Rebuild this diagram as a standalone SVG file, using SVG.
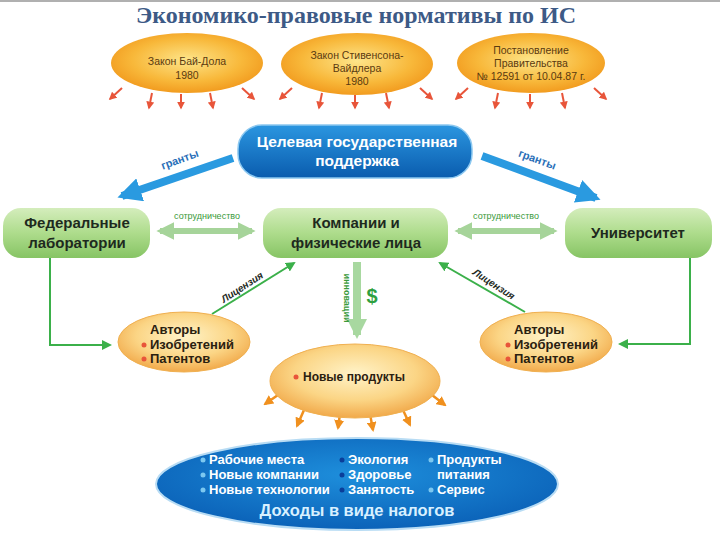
<svg xmlns="http://www.w3.org/2000/svg" width="720" height="540" viewBox="0 0 720 540">
<defs>
<radialGradient id="gOr" cx="50%" cy="45%" r="60%">
<stop offset="0" stop-color="#fde58a"/><stop offset="0.6" stop-color="#f8b83a"/><stop offset="1" stop-color="#f09418"/>
</radialGradient>
<radialGradient id="gOrL" cx="50%" cy="40%" r="60%">
<stop offset="0" stop-color="#fff3c8"/><stop offset="0.6" stop-color="#fbd585"/><stop offset="1" stop-color="#f1a94a"/>
</radialGradient>
<linearGradient id="gBlue" x1="0" y1="0" x2="0" y2="1">
<stop offset="0" stop-color="#2b96e0"/><stop offset="1" stop-color="#0a5cae"/>
</linearGradient>
<radialGradient id="gBlueE" cx="50%" cy="40%" r="60%">
<stop offset="0" stop-color="#1e8fdc"/><stop offset="1" stop-color="#0b62b8"/>
</radialGradient>
<linearGradient id="gGreen" x1="0" y1="0" x2="0" y2="1">
<stop offset="0" stop-color="#d4edbc"/><stop offset="0.5" stop-color="#aedc8c"/><stop offset="1" stop-color="#86c464"/>
</linearGradient>
<marker id="mRed" viewBox="0 0 10 10" refX="8" refY="5" markerWidth="4" markerHeight="4" orient="auto"><path d="M0,0L10,5L0,10z" fill="#e8553a"/></marker>
<marker id="mOr" viewBox="0 0 10 10" refX="8" refY="5" markerWidth="4" markerHeight="4" orient="auto"><path d="M0,0L10,5L0,10z" fill="#f0901e"/></marker>
<marker id="mBlue" viewBox="0 0 10 10" refX="8" refY="5" markerWidth="3" markerHeight="3" orient="auto"><path d="M0,0L10,5L0,10z" fill="#2a9ae0"/></marker>
<marker id="mGreen" viewBox="0 0 10 10" refX="8" refY="5" markerWidth="5" markerHeight="5" orient="auto"><path d="M0,0L10,5L0,10z" fill="#3bb04a"/></marker>
<marker id="mLG" viewBox="0 0 10 10" refX="8" refY="5" markerWidth="3" markerHeight="3" orient="auto-start-reverse"><path d="M0,0L10,5L0,10z" fill="#a6d49a"/></marker>
<marker id="mLG2" viewBox="0 0 10 10" refX="8" refY="5" markerWidth="2.5" markerHeight="2.5" orient="auto"><path d="M0,0L10,5L0,10z" fill="#a8d8a0"/></marker>
</defs>
<style>
.t{font-family:"Liberation Sans",Arial,sans-serif}
.law{font-size:10.5px;fill:#5a3a10}
.bw{font-size:15.5px;font-weight:bold;fill:#ffffff}
.bd{font-size:15px;font-weight:bold;fill:#1e2a1e}
.au{font-size:13px;font-weight:bold;fill:#2a2010}
.lab{font-size:9px;fill:#3a9a3a}
.bl{font-size:13px;font-weight:bold;fill:#ffffff}
.rarr{stroke:#e8553a;stroke-width:2;fill:none;marker-end:url(#mRed)}
.oarr{stroke:#f0901e;stroke-width:2.5;fill:none;marker-end:url(#mOr)}
.gl{stroke:#3bb04a;stroke-width:2;fill:none;marker-end:url(#mGreen)}
</style>
<rect width="720" height="540" fill="#ffffff"/>
<rect x="0" y="0" width="720" height="2" fill="#b0b0b0"/>
<text x="356" y="23" text-anchor="middle" font-family="Liberation Serif,serif" font-size="24" font-weight="bold" fill="#3d5a86">Экономико-правовые нормативы по ИС</text>

<g id="connectors">
<path class="rarr" d="M122,88L110,99"/><path class="rarr" d="M152,93L149,108"/><path class="rarr" d="M181,94L181,108"/><path class="rarr" d="M210,93L213,108"/><path class="rarr" d="M242,88L254,99"/>
<path class="rarr" d="M292,88L280,99"/><path class="rarr" d="M322,93L319,108"/><path class="rarr" d="M355,95L355,108"/><path class="rarr" d="M386,93L389,108"/><path class="rarr" d="M420,88L432,99"/>
<path class="rarr" d="M468,88L456,99"/><path class="rarr" d="M498,93L495,108"/><path class="rarr" d="M530,94L530,108"/><path class="rarr" d="M562,93L565,108"/><path class="rarr" d="M594,88L606,99"/>
<path d="M233,158L122,196" stroke="#2a9ae0" stroke-width="8" fill="none" marker-end="url(#mBlue)"/>
<path d="M482,156L596,198" stroke="#2a9ae0" stroke-width="8" fill="none" marker-end="url(#mBlue)"/>
<text class="t" x="181" y="163" font-size="11" font-weight="bold" fill="#2a6fb8" text-anchor="middle" transform="rotate(-20 181 163)">гранты</text>
<text class="t" x="536" y="163" font-size="11" font-weight="bold" fill="#2a6fb8" text-anchor="middle" transform="rotate(20 536 163)">гранты</text>
<path d="M160,231L252,231" stroke="#a6d49a" stroke-width="6" fill="none" marker-start="url(#mLG)" marker-end="url(#mLG)"/>
<path d="M458,231L554,231" stroke="#a6d49a" stroke-width="6" fill="none" marker-start="url(#mLG)" marker-end="url(#mLG)"/>
<text class="t lab" x="207" y="219" text-anchor="middle">сотрудничество</text>
<text class="t lab" x="506" y="219" text-anchor="middle">сотрудничество</text>
<path class="gl" d="M50,258L50,345L110,345"/>
<path class="gl" d="M690,258L690,344L620,344"/>
<path class="gl" d="M212,314L294,263"/>
<path class="gl" d="M525,312L440,263"/>
<text class="t" x="244" y="290" font-size="10" font-weight="bold" font-style="italic" fill="#1e2a1e" text-anchor="middle" transform="rotate(-33 244 290)">Лицензия</text>
<text class="t" x="492" y="287" font-size="10" font-weight="bold" font-style="italic" fill="#1e2a1e" text-anchor="middle" transform="rotate(33 492 287)">Лицензия</text>
<path d="M357,262L357,335" stroke="#a8d8a0" stroke-width="8" fill="none" marker-end="url(#mLG2)"/>
<text class="t" x="344" y="298" font-size="9" font-weight="bold" fill="#3a9a3a" text-anchor="middle" transform="rotate(90 344 298)">инновации</text>
<text class="t" x="372" y="303" font-size="20" font-weight="bold" fill="#2ea040" text-anchor="middle">$</text>
<path class="oarr" d="M278,395L265,404"/><path class="oarr" d="M304,410L297,426"/><path class="oarr" d="M340,414L338,428"/><path class="oarr" d="M370,414L373,430"/><path class="oarr" d="M403,410L410,425"/><path class="oarr" d="M432,395L445,405"/>
</g>

<g id="law1"><ellipse cx="187" cy="63" rx="76" ry="30" fill="url(#gOr)"/>
<text class="t law" x="187" y="65" text-anchor="middle">Закон Бай-Дола</text><text class="t law" x="187" y="79" text-anchor="middle">1980</text></g>
<g id="law2"><ellipse cx="357" cy="64" rx="76" ry="31" fill="url(#gOr)"/>
<text class="t law" x="357" y="59" text-anchor="middle">Закон Стивенсона-</text><text class="t law" x="357" y="72" text-anchor="middle">Вайдлера</text><text class="t law" x="357" y="85" text-anchor="middle">1980</text></g>
<g id="law3"><ellipse cx="531" cy="63" rx="74" ry="30" fill="url(#gOr)"/>
<text class="t law" x="531" y="54" text-anchor="middle">Постановление</text><text class="t law" x="531" y="67" text-anchor="middle">Правительства</text><text class="t law" x="531" y="80" text-anchor="middle">№ 12591 от 10.04.87 г.</text></g>

<g id="support"><rect x="238" y="125" width="234" height="53" rx="24" fill="url(#gBlue)" stroke="#8cc8f0" stroke-width="1.5"/>
<text class="t bw" x="357" y="147" text-anchor="middle">Целевая государственная</text><text class="t bw" x="357" y="166" text-anchor="middle">поддержка</text></g>

<g id="fedlab"><rect x="3" y="208" width="147" height="50" rx="18" fill="url(#gGreen)"/>
<text class="t bd" x="77" y="228" text-anchor="middle">Федеральные</text><text class="t bd" x="77" y="248" text-anchor="middle">лаборатории</text></g>
<g id="companies"><rect x="263" y="208" width="185" height="50" rx="18" fill="url(#gGreen)"/>
<text class="t bd" x="356" y="228" text-anchor="middle">Компании и</text><text class="t bd" x="356" y="248" text-anchor="middle">физические лица</text></g>
<g id="university"><rect x="565" y="208" width="147" height="50" rx="18" fill="url(#gGreen)"/>
<text class="t bd" x="638" y="238" text-anchor="middle">Университет</text></g>

<g id="authors1"><ellipse cx="184" cy="342" rx="66" ry="30" fill="url(#gOrL)" stroke="#f0b050" stroke-width="1"/>
<text class="t au" x="150" y="334">Авторы</text>
<circle cx="144" cy="345" r="2.5" fill="#e8553a"/><text class="t au" x="150" y="349">Изобретений</text>
<circle cx="144" cy="359" r="2.5" fill="#e8553a"/><text class="t au" x="150" y="363">Патентов</text></g>
<g id="authors2"><ellipse cx="546" cy="342" rx="66" ry="30" fill="url(#gOrL)" stroke="#f0b050" stroke-width="1"/>
<text class="t au" x="514" y="334">Авторы</text>
<circle cx="508" cy="345" r="2.5" fill="#e8553a"/><text class="t au" x="514" y="349">Изобретений</text>
<circle cx="508" cy="359" r="2.5" fill="#e8553a"/><text class="t au" x="514" y="363">Патентов</text></g>

<g id="products"><ellipse cx="355" cy="381" rx="85" ry="37" fill="url(#gOrL)" stroke="#f0b050" stroke-width="1"/>
<circle cx="296" cy="377" r="2.5" fill="#e8553a"/><text class="t" x="303" y="381" font-size="12" font-weight="bold" fill="#2a2010">Новые продукты</text></g>

<g id="taxes"><ellipse cx="357" cy="484" rx="201" ry="46" fill="url(#gBlueE)" stroke="#b8dcf4" stroke-width="2"/>
<circle cx="203" cy="460" r="2.5" fill="#7cc8f0"/><text class="t bl" x="209" y="464">Рабочие места</text>
<circle cx="203" cy="475" r="2.5" fill="#7cc8f0"/><text class="t bl" x="209" y="479">Новые компании</text>
<circle cx="203" cy="490" r="2.5" fill="#7cc8f0"/><text class="t bl" x="209" y="494">Новые технологии</text>
<circle cx="342" cy="460" r="2.5" fill="#0a3e9a"/><text class="t bl" x="348" y="464">Экология</text>
<circle cx="342" cy="475" r="2.5" fill="#0a3e9a"/><text class="t bl" x="348" y="479">Здоровье</text>
<circle cx="342" cy="490" r="2.5" fill="#0a3e9a"/><text class="t bl" x="348" y="494">Занятость</text>
<circle cx="431" cy="460" r="2.5" fill="#7cc8f0"/><text class="t bl" x="437" y="464">Продукты</text>
<text class="t bl" x="437" y="479">питания</text>
<circle cx="431" cy="490" r="2.5" fill="#7cc8f0"/><text class="t bl" x="437" y="494">Сервис</text>
<text class="t" x="357" y="516" font-size="16.5" font-weight="bold" fill="#d8f0ff" text-anchor="middle">Доходы в виде налогов</text></g>
</svg>
